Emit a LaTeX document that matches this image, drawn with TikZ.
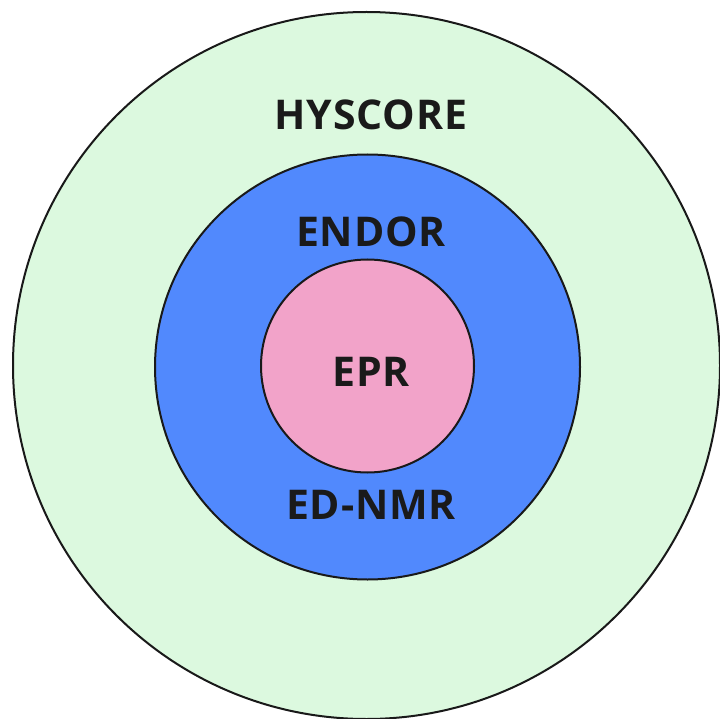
\documentclass[tikz,border=0pt]{standalone}
\usepackage{fontspec}
\setmainfont{Open Sans}[LetterSpace=2]
\definecolor{outerg}{HTML}{DCF9DF}
\definecolor{midb}{HTML}{5189FD}
\definecolor{innerp}{HTML}{F2A3C9}
\definecolor{txt}{HTML}{1A1A1A}
\begin{document}
\begin{tikzpicture}[x=1pt,y=-1pt,
  ring/.style={draw=black!90,line width=2pt},
  lab/.style={text=txt,font=\fontsize{41}{41}\selectfont\bfseries,inner sep=0pt}]
\useasboundingbox (0,0) rectangle (720,719);
\fill[white] (0,0) rectangle (720,719);
\filldraw[ring,fill=outerg] (366.5,365.5) circle[radius=353.5];
\filldraw[ring,fill=midb] (367.5,367) circle[radius=212.5];
\filldraw[ring,fill=innerp] (367.5,366) circle[radius=106.5];
\node[lab] (hyscore) at (371,115) {HYSCORE};
\node[lab] (endor) at (371,232) {ENDOR};
\node[lab] (epr) at (371,372) {EPR};
\node[lab] (ednmr) at (371,505) {ED-NMR};
\end{tikzpicture}
\end{document}
